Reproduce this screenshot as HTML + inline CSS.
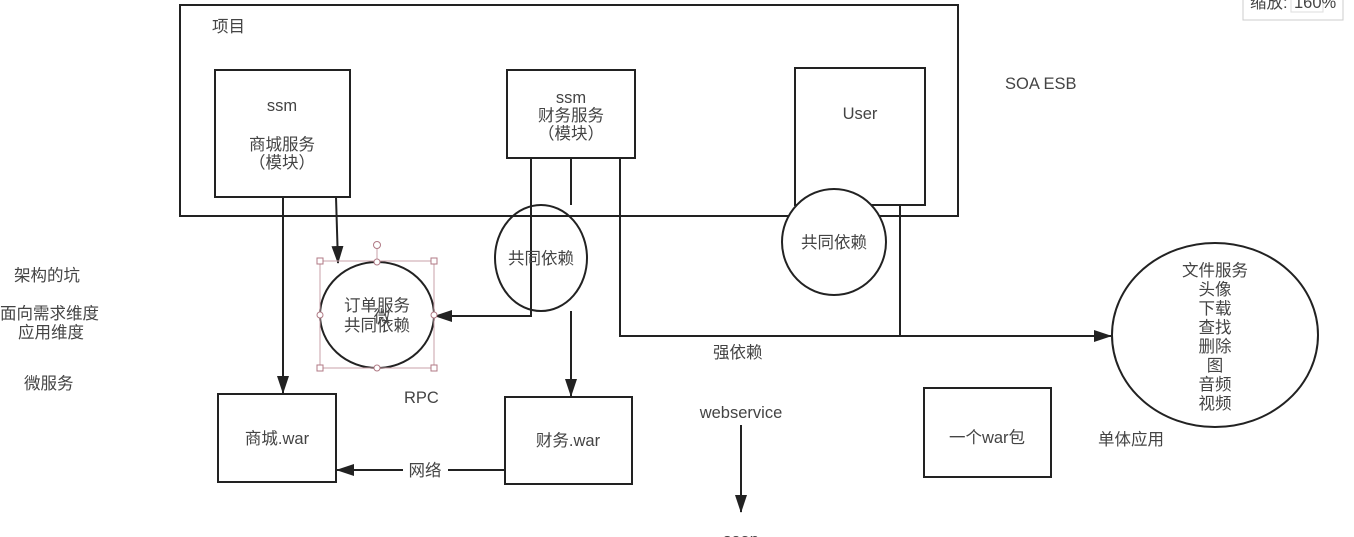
<!DOCTYPE html>
<html><head><meta charset="utf-8"><style>
html,body{margin:0;padding:0;background:#fff;width:1354px;height:537px;overflow:hidden}
text{font-family:"Liberation Sans","Noto Sans CJK SC",sans-serif;fill:#444;font-size:16.5px}
</style></head><body>
<svg width="1354" height="537" viewBox="0 0 1354 537" xmlns="http://www.w3.org/2000/svg">
<defs>
<marker id="b" markerWidth="18" markerHeight="12" refX="17" refY="6" orient="auto" markerUnits="userSpaceOnUse" viewBox="0 0 18 12">
<path d="M0,0 L18,6 L0,12 z" fill="#222"/></marker>
</defs>
<g fill="none" stroke="#222" stroke-width="2">
<rect x="180" y="5" width="778" height="211"/>
<rect x="215" y="70" width="135" height="127"/>
<rect x="507" y="70" width="128" height="88"/>
<rect x="795" y="68" width="130" height="137"/>
<rect x="218" y="394" width="118" height="88"/>
<rect x="505" y="397" width="127" height="87"/>
<rect x="924" y="388" width="127" height="89"/>
<ellipse cx="834" cy="242" rx="52" ry="53" fill="#fff"/>
<line x1="900" y1="205" x2="900" y2="336"/>
<ellipse cx="541" cy="258" rx="46" ry="53"/>
<ellipse cx="377" cy="315" rx="57" ry="53"/>
<ellipse cx="1215" cy="335" rx="103" ry="92"/>
<line x1="283" y1="197" x2="283" y2="393" marker-end="url(#b)"/>
<line x1="336" y1="197" x2="338" y2="263" marker-end="url(#b)"/>
<polyline points="531,158 531,316 435,316" marker-end="url(#b)"/>
<line x1="571" y1="158" x2="571" y2="205"/>
<line x1="571" y1="311" x2="571" y2="396" marker-end="url(#b)"/>
<polyline points="620,158 620,336 1111,336" marker-end="url(#b)"/>
<line x1="505" y1="470" x2="448" y2="470"/>
<line x1="403" y1="470" x2="337" y2="470" marker-end="url(#b)"/>
<line x1="741" y1="425" x2="741" y2="512" marker-end="url(#b)"/>
</g>
<g fill="none" stroke="#c9a0a8" stroke-width="1">
<rect x="320" y="261" width="114" height="107"/>
<line x1="377" y1="245" x2="377" y2="261"/>
</g>
<g fill="#fff" stroke="#b07a85" stroke-width="1">
<rect x="317" y="258" width="6" height="6"/><rect x="431" y="258" width="6" height="6"/>
<rect x="317" y="365" width="6" height="6"/><rect x="431" y="365" width="6" height="6"/>
<circle cx="377" cy="262" r="3"/><circle cx="377" cy="368" r="3"/>
<circle cx="320" cy="315" r="3"/><circle cx="434" cy="315" r="3"/>
<circle cx="377" cy="245" r="3.5"/>
</g>
<text x="212" y="32">项目</text>
<text x="282" y="111" text-anchor="middle">ssm</text>
<text x="282" y="150" text-anchor="middle">商城服务</text>
<text x="282" y="168" text-anchor="middle">（模块）</text>
<text x="571" y="103" text-anchor="middle">ssm</text>
<text x="571" y="121" text-anchor="middle">财务服务</text>
<text x="571" y="139" text-anchor="middle">（模块）</text>
<text x="860" y="119" text-anchor="middle">User</text>
<text x="1005" y="89">SOA ESB</text>
<text x="541" y="264" text-anchor="middle">共同依赖</text>
<text x="834" y="248" text-anchor="middle">共同依赖</text>
<text x="377" y="311" text-anchor="middle">订单服务</text>
<text x="377" y="331" text-anchor="middle">共同依赖</text>
<text x="382" y="322" text-anchor="middle" font-size="13">微</text>
<text x="1215" y="276" text-anchor="middle">文件服务</text>
<text x="1215" y="295" text-anchor="middle">头像</text>
<text x="1215" y="314" text-anchor="middle">下载</text>
<text x="1215" y="333" text-anchor="middle">查找</text>
<text x="1215" y="352" text-anchor="middle">删除</text>
<text x="1215" y="371" text-anchor="middle">图</text>
<text x="1215" y="390" text-anchor="middle">音频</text>
<text x="1215" y="409" text-anchor="middle">视频</text>
<text x="277" y="444" text-anchor="middle">商城.war</text>
<text x="568" y="446" text-anchor="middle">财务.war</text>
<text x="987" y="443" text-anchor="middle">一个war包</text>
<text x="1098" y="445">单体应用</text>
<text x="425" y="476" text-anchor="middle">网络</text>
<text x="404" y="403">RPC</text>
<text x="741" y="418" text-anchor="middle">webservice</text>
<text x="741" y="545" text-anchor="middle">soap</text>
<text x="713" y="358">强依赖</text>
<text x="14" y="281">架构的坑</text>
<text x="0" y="319">面向需求维度</text>
<text x="18" y="338">应用维度</text>
<text x="24" y="389">微服务</text>
<text x="1225" y="540" font-size="13" fill="#999">...</text>
<g>
<rect x="1243" y="-4" width="100" height="24" fill="#fff" stroke="#ccc"/>
<text x="1250" y="8" font-size="9" fill="#888">缩放:</text>
<rect x="1291" y="-2" width="32" height="14" fill="#fff" stroke="#ddd"/>
<text x="1294" y="8" font-size="9" fill="#888">160%</text>
</g>
</svg>
</body></html>
